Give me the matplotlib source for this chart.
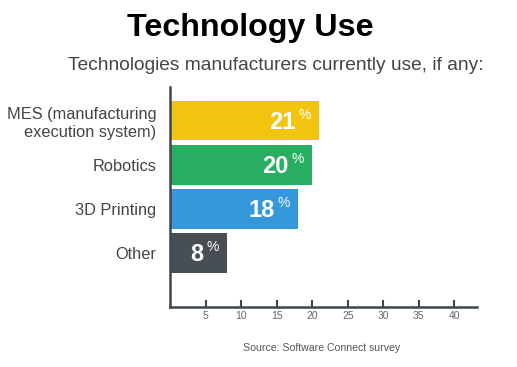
import numpy as np
import matplotlib.pyplot as plt

plt.rcParams['font.family'] = ['Liberation Sans', 'DejaVu Sans']

categories = ['MES (manufacturing\nexecution system)', 'Robotics', '3D Printing', 'Other']
values = [21, 20, 18, 8]
colors = ['#F1C40F', '#27AE60', '#3498DB', '#474F55']
xticks = [5, 10, 15, 20, 25, 30, 35, 40]

fig = plt.figure(figsize=(5.17, 3.67), dpi=100)
ax = fig.add_axes([0.329, 0.163, 0.594, 0.60])

ind = np.arange(len(categories))
bars = ax.barh(ind, values, height=0.89, color=colors)

ax.set_ylim(len(categories) - 1 + 1.23, -0.77)
ax.set_xlim(0, 43.2)

axis_col = '#3D474D'
for s in ['top', 'right']:
    ax.spines[s].set_visible(False)
for s in ['left', 'bottom']:
    ax.spines[s].set_color(axis_col)
    ax.spines[s].set_linewidth(1.8)

ax.set_xticks(xticks)
ax.set_xticklabels([str(t) for t in xticks], fontsize=7.5, color='#666666')
ax.tick_params(axis='x', direction='in', length=5, width=1.5, color=axis_col, pad=3)
ax.set_yticks(ind)
ax.set_yticklabels(categories, fontsize=11.8, color='#444444', ha='right')
ax.tick_params(axis='y', length=0, pad=10)

# value labels with small superscript %
for rect, v in zip(bars, values):
    y = rect.get_y() + rect.get_height() / 2
    x = rect.get_width()
    ax.annotate(str(v), (x, y), xytext=(-17, -1), textcoords='offset points',
                ha='right', va='center', color='white', fontsize=17, fontweight='bold')
    ax.annotate('%', (x, y), xytext=(-15, 4), textcoords='offset points',
                ha='left', va='center', color='white', fontsize=10)

fig.text(0.485, 0.925, 'Technology Use', ha='center', va='center',
         fontsize=23.2, fontweight='bold', color='black')
fig.text(0.533, 0.822, 'Technologies manufacturers currently use, if any:',
         ha='center', va='center', fontsize=13.75, color='#444444')
fig.text(0.622, 0.052, 'Source: Software Connect survey', ha='center', va='center',
         fontsize=7.6, color='#555555')

fig.savefig('out.png', dpi=100)
